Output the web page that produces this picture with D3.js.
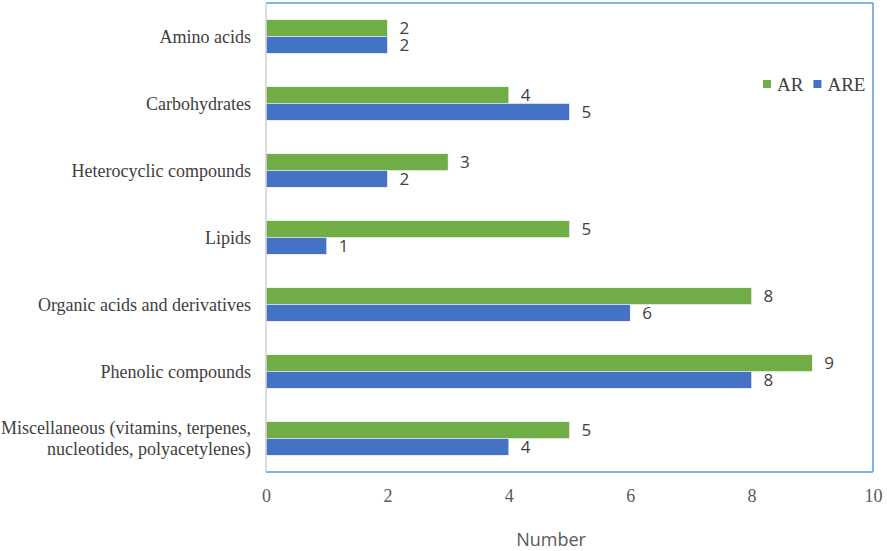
<!DOCTYPE html>
<html><head><meta charset="utf-8">
<script src="https://cdn.jsdelivr.net/npm/d3@7"></script>
<style>body{margin:0;background:#fff}svg{display:block}</style>
</head><body>
<svg id="c" width="887" height="551"></svg>
<script>
const categories = ["Amino acids","Carbohydrates","Heterocyclic compounds","Lipids","Organic acids and derivatives","Phenolic compounds","Miscellaneous (vitamins, terpenes,\nnucleotides, polyacetylenes)"];
const arValues = [2,4,3,5,8,9,5];
const areValues = [2,5,2,1,6,8,4];
const seriesNames = ["AR","ARE"];
const xTicks = [0,2,4,6,8,10];
const colors = {AR:"#70AD47", ARE:"#4472C4"};

const svg = d3.select("#c");
const L = 266, R = 873, T = 3, B = 472;
const x = d3.scaleLinear().domain([0,10]).range([L,R]);
const y = d3.scaleBand().domain(categories).range([T,B]).paddingInner(0.5).paddingOuter(0.25);
const sub = d3.scaleBand().domain(seriesNames).range([0,y.bandwidth()]);

const data = categories.map((c,i)=>({c, AR:arValues[i], ARE:areValues[i]}));

// frame
svg.append("line").attr("x1",L).attr("x2",R).attr("y1",T).attr("y2",T).attr("stroke","#5B9BD5").attr("stroke-width",1.5);
svg.append("line").attr("x1",R).attr("x2",R).attr("y1",T).attr("y2",B).attr("stroke","#5B9BD5").attr("stroke-width",1.5);
svg.append("line").attr("x1",L).attr("x2",R).attr("y1",B).attr("y2",B).attr("stroke","#5B9BD5").attr("stroke-width",1.5);

// bars
const g = svg.append("g");
data.forEach(d=>{
  seriesNames.forEach(s=>{
    g.append("rect").attr("x",x(0)).attr("y",y(d.c)+sub(s))
      .attr("width",x(d[s])-x(0)).attr("height",sub.bandwidth())
      .attr("fill",colors[s]).attr("stroke","#fff").attr("stroke-width",0.5);
  });
});
data.forEach(d=>{
  seriesNames.forEach(s=>{
    g.append("text").attr("x",x(d[s])+12).attr("y",y(d.c)+sub(s)+sub.bandwidth()/2)
      .attr("dy","0.36em").attr("font-family","'Open Sans', sans-serif").attr("font-size",17)
      .attr("fill","#404040").text(d[s]);
  });
});

// left axis line
svg.append("line").attr("x1",L).attr("x2",L).attr("y1",T).attr("y2",B).attr("stroke","#D0D0D0").attr("stroke-width",1.5);

// category labels
categories.forEach(c=>{
  const lines = c.split("\n");
  const t = svg.append("text").attr("text-anchor","end").attr("font-family","'Liberation Serif', serif")
    .attr("font-size",18).attr("fill","#404040");
  const cy = y(c)+y.bandwidth()/2;
  lines.forEach((ln,i)=>{
    t.append("tspan").attr("x",251).attr("y",cy + (i-(lines.length-1)/2)*21).attr("dy","0.35em").text(ln);
  });
});

// x axis ticks
const ax = svg.append("g").attr("transform",`translate(0,${B})`)
  .call(d3.axisBottom(x).tickValues(xTicks).tickSize(0).tickPadding(17));
ax.select(".domain").remove();
ax.selectAll("text").attr("font-family","'Liberation Serif', serif").attr("font-size",18).attr("fill","#595959");

svg.append("text").attr("x",551).attr("y",540).attr("dy","0.35em").attr("text-anchor","middle")
  .attr("font-family","'Open Sans', sans-serif").attr("font-size",18).attr("fill","#595959").text("Number");

// legend
const lg = svg.append("g");
let lx = 763;
seriesNames.forEach(s=>{
  lg.append("rect").attr("x",lx).attr("y",80).attr("width",8).attr("height",8).attr("fill",colors[s]);
  const t = lg.append("text").attr("x",lx+14).attr("y",84).attr("dy","0.35em")
    .attr("font-family","'Liberation Serif', serif").attr("font-size",19).attr("fill","#404040").text(s);
  lx += 14 + t.node().getComputedTextLength() + 10;
});
</script>
</body></html>
